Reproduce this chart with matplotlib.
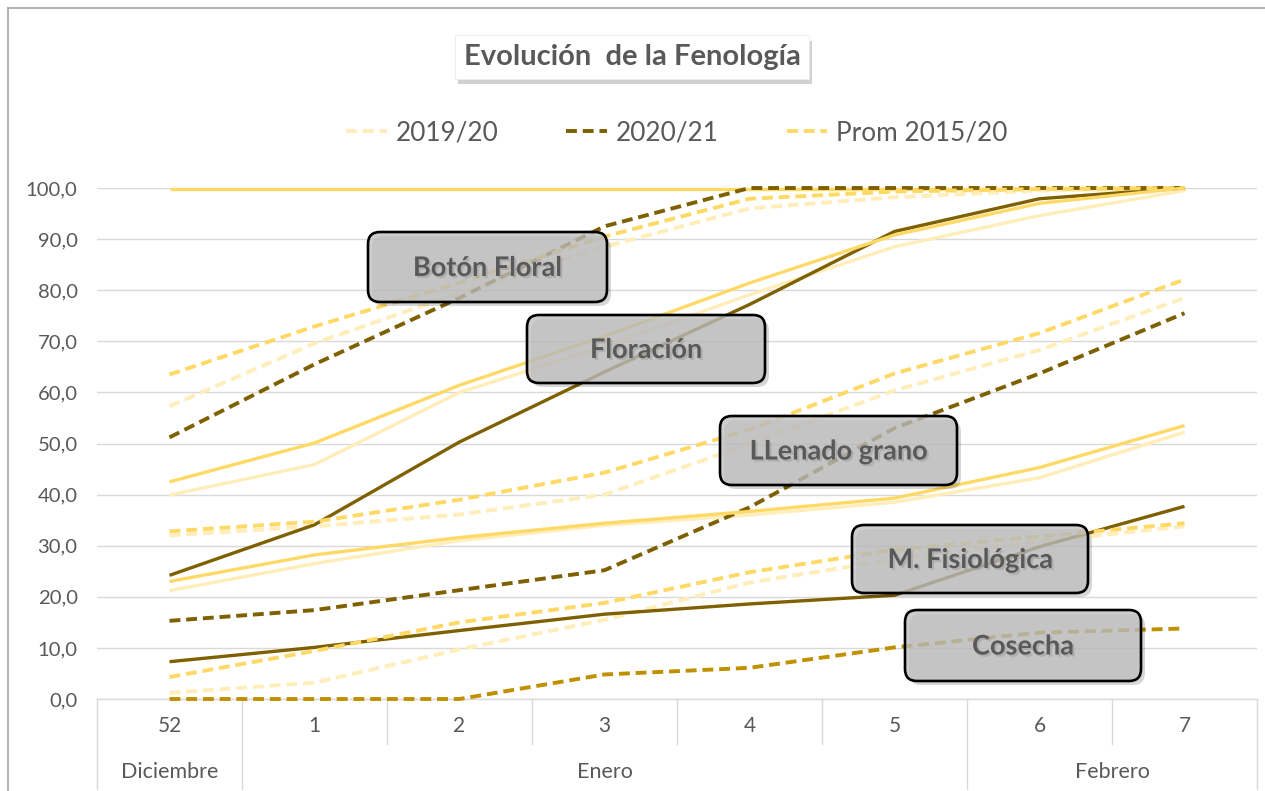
import matplotlib
matplotlib.use("Agg")
import matplotlib.pyplot as plt
from matplotlib.lines import Line2D
from matplotlib.patches import FancyBboxPatch
from matplotlib.transforms import IdentityTransform
import matplotlib.patheffects as pe
from matplotlib.ticker import FuncFormatter, MultipleLocator

# ---------------- data ----------------
weeks = ["52", "1", "2", "3", "4", "5", "6", "7"]
months = ["Diciembre", "Enero", "Febrero"]
month_spans = [1, 5, 2]
seasons = ["2019/20", "2020/21", "Prom 2015/20"]
stages = ["Botón Floral", "Floración", "LLenado grano", "M. Fisiológica", "Cosecha"]

emergencia_prom = [99.8, 99.8, 99.8, 99.8, 99.8, 99.8, 99.8, 99.8]

boton_1920 = [57.3, 69.6, 79.5, 88.5, 96.0, 98.2, 99.5, 100.0]
boton_2021 = [51.2, 65.5, 78.5, 92.5, 100.0, 100.0, 100.0, 100.0]
boton_prom = [63.5, 72.9, 81.5, 90.5, 97.9, 99.3, 99.8, 100.0]

flor_1920 = [39.9, 45.9, 60.0, 69.0, 79.1, 88.5, 94.6, 99.5]
flor_2021 = [24.2, 34.1, 50.3, 64.0, 77.2, 91.5, 97.9, 100.0]
flor_prom = [42.5, 50.1, 61.4, 71.0, 81.4, 90.8, 97.0, 100.0]

llen_1920 = [32.0, 33.8, 36.1, 40.0, 49.9, 60.4, 68.3, 78.5]
llen_2021 = [15.3, 17.4, 21.3, 25.2, 37.5, 53.0, 63.7, 75.5]
llen_prom = [32.8, 34.7, 39.0, 44.3, 52.7, 63.7, 71.6, 82.1]

mfis_1920 = [21.2, 26.5, 31.0, 34.0, 36.0, 38.5, 43.3, 52.2]
mfis_2021 = [7.3, 10.1, 13.4, 16.6, 18.6, 20.3, 29.8, 37.7]
mfis_prom = [23.0, 28.2, 31.6, 34.4, 36.7, 39.3, 45.3, 53.5]

cos_1920 = [1.2, 3.2, 9.7, 15.5, 22.8, 27.3, 30.8, 33.8]
cos_2021 = [0.0, 0.0, 0.0, 4.8, 6.1, 10.1, 13.0, 13.8]
cos_prom = [4.3, 9.4, 15.0, 18.8, 24.8, 29.2, 31.8, 34.4]

# ---------------- style ----------------
W, H = 1265, 791
C_LIGHT = "#FFEDBA"
C_DARK = "#7F6000"
C_PROM = "#FFD966"
C_GOLD = "#BF9000"
TXT = "#595959"
GRID = "#D9D9D9"
plt.rcParams["font.family"] = ["Lato", "DejaVu Sans"]

fig = plt.figure(figsize=(W / 100, H / 100), dpi=100)
fig.patch.set_facecolor("white")
ax = fig.add_axes([97 / W, 1 - 699 / H, 1160 / W, 511 / H])

x = list(range(len(weeks)))
DASH = (2.8, 1.5)
LW_S = 2.4
LW_D = 2.8

def solid(y, c):
    ax.plot(x, y, color=c, lw=LW_S, solid_capstyle="butt", clip_on=False, zorder=3)

def dashed(y, c, label=None):
    ln, = ax.plot(x, y, color=c, lw=LW_D, dashes=DASH, dash_capstyle="butt",
                  clip_on=False, zorder=3, label=label)
    return ln

solid(emergencia_prom, C_PROM)
# 2019/20
h1 = dashed(boton_1920, C_LIGHT, seasons[0])
solid(flor_1920, C_LIGHT)
dashed(llen_1920, C_LIGHT)
solid(mfis_1920, C_LIGHT)
dashed(cos_1920, C_LIGHT)
# 2020/21
h2 = dashed(boton_2021, C_DARK, seasons[1])
solid(flor_2021, C_DARK)
dashed(llen_2021, C_DARK)
solid(mfis_2021, C_DARK)
dashed(cos_2021, C_GOLD)
# Prom
h3 = dashed(boton_prom, C_PROM, seasons[2])
solid(flor_prom, C_PROM)
dashed(llen_prom, C_PROM)
solid(mfis_prom, C_PROM)
dashed(cos_prom, C_PROM)

ax.set_xlim(-0.5, len(weeks) - 0.5)
ax.set_ylim(0, 100)
ax.yaxis.set_major_locator(MultipleLocator(10))
ax.yaxis.set_major_formatter(FuncFormatter(lambda v, p: f"{v:.1f}".replace(".", ",")))
ax.yaxis.grid(True, color=GRID, lw=1.0, zorder=0)
ax.set_axisbelow(True)
for s in ["left", "right", "top"]:
    ax.spines[s].set_visible(False)
ax.spines["bottom"].set_color(GRID)
ax.spines["bottom"].set_linewidth(1.0)
ax.tick_params(axis="y", length=0, pad=14, labelsize=14.6, labelcolor=TXT)
ax.set_xticks(x)
ax.set_xticklabels(weeks)
ax.tick_params(axis="x", length=0, pad=12, labelsize=15, labelcolor=TXT)

# multi-level category table
xt = ax.get_xaxis_transform()
row1 = -45 / 511
row2 = -90 / 511
month_bounds = [-0.5]
for sp in month_spans:
    month_bounds.append(month_bounds[-1] + sp)
for i in range(len(weeks) + 1):
    b = i - 0.5
    bottom = row2 if b in month_bounds else row1
    ax.plot([b, b], [0, bottom], transform=xt, color=GRID, lw=1.0, clip_on=False)
for m, a, b in zip(months, month_bounds[:-1], month_bounds[1:]):
    ax.text((a + b) / 2, -73 / 511, m, transform=xt, ha="center", va="center",
            fontsize=15.5, color=TXT)

# legend
fig.legend(handles=[h1, h2, h3], labels=seasons, loc="center",
           bbox_to_anchor=(677 / W, 1 - 133 / H), ncol=3, frameon=False,
           fontsize=18.8, handlelength=1.55, handletextpad=0.35, columnspacing=2.6,
           labelcolor=TXT)

# title
t = fig.text(632 / W, 1 - 57 / H, "Evolución  de la Fenología", ha="center", va="center",
             fontsize=21, fontweight="bold", color=TXT,
             bbox=dict(boxstyle="square,pad=0.3", fc="white", ec="#EBEBEB", lw=0.6))
t.get_bbox_patch().set_path_effects([
    pe.SimplePatchShadow(offset=(2, -4), shadow_rgbFace="#8C8C8C", alpha=0.4), pe.Normal()])

# stage label boxes (pixel layout: left, top, right, bottom)
box_px = [(368, 232, 607, 302), (527, 315, 765, 383), (720, 416, 957, 485),
          (852, 525, 1088, 593), (905, 610, 1141, 681)]
idt = IdentityTransform()
for name, (l, tp, r, bt) in zip(stages, box_px):
    y0 = H - bt
    shadow = FancyBboxPatch((l + 4, y0 - 4), r - l, bt - tp,
                            boxstyle="round,pad=0,rounding_size=12",
                            transform=idt, fc="#000000", ec="none", alpha=0.16, zorder=4)
    fig.add_artist(shadow)
    box = FancyBboxPatch((l, y0), r - l, bt - tp,
                         boxstyle="round,pad=0,rounding_size=12",
                         transform=idt, fc="#C0C0C0", alpha=0.78, ec="none", zorder=5)
    fig.add_artist(box)
    edge = FancyBboxPatch((l, y0), r - l, bt - tp,
                          boxstyle="round,pad=0,rounding_size=12",
                          transform=idt, fc="none", ec="black", lw=1.9, zorder=6)
    fig.add_artist(edge)
    tx = fig.text((l + r) / 2 / W, 1 - ((tp + bt) / 2 + 1) / H, name, ha="center", va="center",
                  fontsize=19.5, fontweight="bold", color=TXT, zorder=7)
    tx.set_path_effects([pe.withSimplePatchShadow(offset=(1.5, -1.5), shadow_rgbFace="#9A9A9A", alpha=0.5)])

# outer chart border (left and top visible)
fig.add_artist(Line2D([8, 8], [0, H - 8], transform=idt, color="#A6A6A6", lw=1.2))
fig.add_artist(Line2D([8, W], [H - 8, H - 8], transform=idt, color="#A6A6A6", lw=1.2))

fig.savefig("out.png", dpi=100, facecolor="white")
